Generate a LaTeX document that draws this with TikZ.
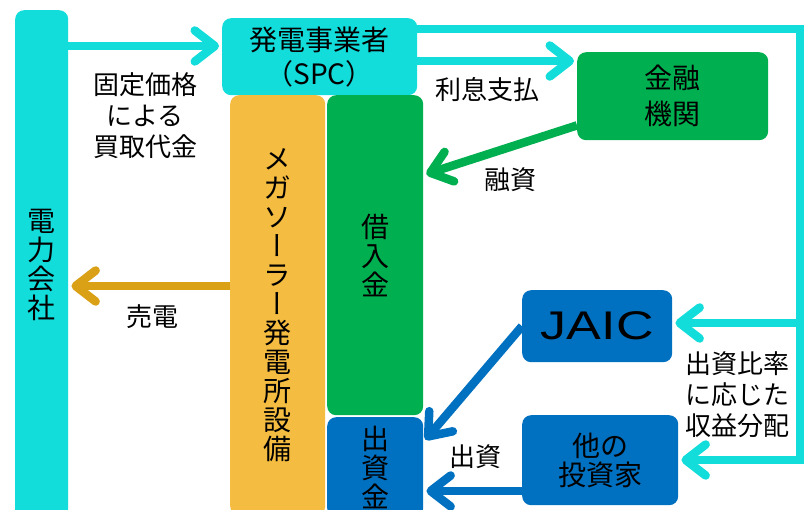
\documentclass[tikz,border=0pt]{standalone}
\usepackage{fontspec}
\setmainfont{Noto Sans CJK JP}
\newfontfamily\vjp[RawFeature=+vert]{Noto Sans CJK JP}
\newfontfamily\jaicfont[FakeStretch=1.3]{Liberation Sans}
\usetikzlibrary{arrows.meta}
\definecolor{spccyan}{RGB}{18,221,219}
\definecolor{fgreen}{RGB}{0,176,80}
\definecolor{fblue}{RGB}{0,112,192}
\definecolor{forange}{RGB}{244,188,64}
\definecolor{fgold}{RGB}{218,160,22}
\begin{document}
\begin{tikzpicture}[x=1pt,y=-1pt,
        box/.style={rounded corners=9pt,inner sep=0pt,anchor=north west,align=center,font=\fontsize{28}{34}\selectfont},
        tate/.style={box,font=\vjp\fontsize{28}{29}\selectfont},
        lab/.style={align=center,font=\fontsize{26}{31}\selectfont},
        flow/.style={line width=8.5pt,shorten >=3pt,-{Straight Barb[round,length=20pt,width=31pt]}}]
    \path[use as bounding box,fill=white] (0,0) rectangle (805,510);
    \node[tate,fill=spccyan,minimum width=53pt,minimum height=510pt] (den) at (15,10) {電\\力\\会\\社};
    \node[box,fill=spccyan,minimum width=195pt,minimum height=77pt] (spc) at (222,18) {発電事業者\\（SPC）};
    \node[tate,fill=forange,minimum width=95pt,minimum height=420pt] (mega) at (230,95) {メ\\ガ\\ソ\\ー\\ラ\\ー\\発\\電\\所\\設\\備};
    \node[tate,fill=fgreen,minimum width=96pt,minimum height=320pt] (kari) at (327,95) {借\\入\\金};
    \node[tate,fill=fblue,minimum width=96pt,minimum height=100pt] (shu) at (327,417) {出\\資\\金};
    \node[box,fill=fgreen,minimum width=191pt,minimum height=88pt,font=\fontsize{28}{36}\selectfont] (kin) at (577,52) {金融\\機関};
    \node[box,fill=fblue,minimum width=150pt,minimum height=72pt,font=\jaicfont\fontsize{40}{40}\selectfont] (jaic) at (522,290) {JAIC};
    \node[box,fill=fblue,minimum width=156pt,minimum height=90pt,font=\fontsize{28}{29}\selectfont] (ta) at (522,415) {他の\\投資家};
    \node[lab] (kotei) at (145,116) {固定価格\\による\\買取代金};
    \node[lab] (rishi) at (487,90) {利息支払};
    \node[lab] (yushi) at (510,180) {融資};
    \node[lab] (baiden) at (152,317) {売電};
    \node[lab] (shusshi) at (475,457) {出資};
    \node[lab] (haibun) at (737,395) {出資比率\\に応じた\\収益分配};
    \coordinate (r1) at (800,29);
    \coordinate (r2) at (800,323);
    \coordinate (r3) at (800,460);
    \draw[flow,spccyan] (den.east |- 0,46) -- (spc.west |- 0,46);
    \draw[flow,spccyan] (spc.east |- 0,61) -- (kin.west |- 0,61);
    \draw[flow,fgreen] ([yshift=15pt]kin.south west) -- (kari.east |- 0,175);
    \draw[flow,fgold] (mega.west |- 0,286) -- (den.east |- 0,286);
    \draw[flow,fblue] (jaic.west) -- (shu.east |- 0,442);
    \draw[flow,fblue] (ta.west |- 0,491) -- (shu.east |- 0,491);
    \draw[flow,spccyan] (spc.east |- r1) -- (r1) -- (r3) -- (ta.east |- r3);
    \draw[flow,spccyan] (r2) -- (jaic.east |- r2);
\end{tikzpicture}
\end{document}
